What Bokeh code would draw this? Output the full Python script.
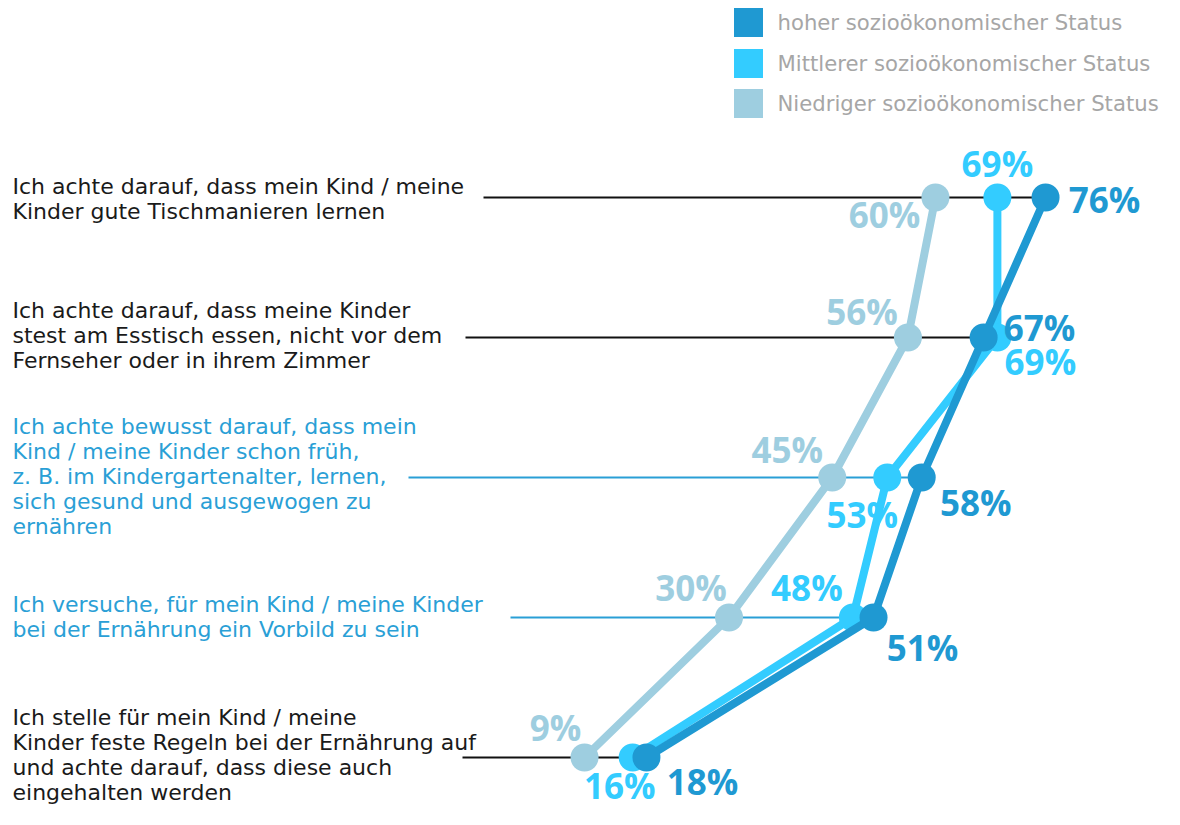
from bokeh.plotting import figure
from bokeh.models import Range1d, ColumnDataSource
from bokeh.core.properties import value
from bokeh.embed import file_html
from bokeh.resources import INLINE

# ---------------- data ----------------
statements = [
    "Ich achte darauf, dass mein Kind / meine\nKinder gute Tischmanieren lernen",
    "Ich achte darauf, dass meine Kinder\nstest am Esstisch essen, nicht vor dem\nFernseher oder in ihrem Zimmer",
    "Ich achte bewusst darauf, dass mein\nKind / meine Kinder schon früh,\nz. B. im Kindergartenalter, lernen,\nsich gesund und ausgewogen zu\nernähren",
    "Ich versuche, für mein Kind / meine Kinder\nbei der Ernährung ein Vorbild zu sein",
    "Ich stelle für mein Kind / meine\nKinder feste Regeln bei der Ernährung auf\nund achte darauf, dass diese auch\neingehalten werden",
]
series_names = [
    "hoher sozioökonomischer Status",
    "Mittlerer sozioökonomischer Status",
    "Niedriger sozioökonomischer Status",
]
hoher = [76, 67, 58, 51, 18]
mittlerer = [69, 69, 53, 48, 16]
niedriger = [60, 56, 45, 30, 9]

# ---------------- styling / layout ----------------
C_HOCH = "#1f99d2"
C_MITT = "#33ccff"
C_NIED = "#9ecee0"
C_BLUE_TXT = "#2a9fd6"
C_BLACK = "#1a1a1a"
stmt_colors = [C_BLACK, C_BLACK, C_BLUE_TXT, C_BLUE_TXT, C_BLACK]

W, H = 1164, 809
PX_PER = 6.881           # pixels per percentage point
X0_PX = 522.1            # canvas px of 0 %
ROW0_PX = 197.0          # canvas px of first row
ROW_STEP = 140.0

x_start = -X0_PX / PX_PER
x_end = x_start + W / PX_PER
y_top = -ROW0_PX / ROW_STEP
y_bot = y_top + H / ROW_STEP

def px_x(px):
    return x_start + px / PX_PER

def px_y(py):
    return y_top + py / ROW_STEP

p = figure(width=W, height=H, output_backend="svg", toolbar_location=None,
           x_range=Range1d(x_start, x_end), y_range=Range1d(y_bot, y_top),
           min_border=0, background_fill_color="white", border_fill_color="white")
p.axis.visible = False
p.grid.visible = False
p.outline_line_color = None

rows = list(range(len(statements)))

# horizontal guide lines from text end to the highest value
line_start_px = [483, 465, 408, 510, 462]
for i in rows:
    p.line([px_x(line_start_px[i]), hoher[i]], [i, i],
           line_color=C_BLUE_TXT if i in (2, 3) else "#111111", line_width=2)

# statements text
p.text(x=[px_x(12)] * 5, y=rows, text=statements,
       text_font=value("DejaVu Sans"), text_font_size="22px",
       text_color=stmt_colors, text_align="left", text_baseline="middle",
       text_line_height=1.0, y_offset=[1, -2, -1, -1, -3])

# series lines + markers (draw low first, high on top)
for vals, col in [(niedriger, C_NIED), (mittlerer, C_MITT), (hoher, C_HOCH)]:
    p.line(vals, rows, line_color=col, line_width=8, line_join="round")
    p.scatter(vals, rows, size=28, marker="circle", fill_color=col, line_color=None)

# value labels
off = {
    "n": [(-51, 17), (-46, -26), (-45, -28), (-38, -30), (-29, -30)],
    "m": [(0, -34), (43, 24), (-25, 37), (-46, -30), (-13, 28)],
    "h": [(59, 2), (56, -10), (54, 25), (49, 30), (56, 24)],
}
for key, vals, col in [("n", niedriger, C_NIED), ("m", mittlerer, C_MITT), ("h", hoher, C_HOCH)]:
    src = ColumnDataSource(dict(
        x=vals, y=rows, t=[f"{v}%" for v in vals],
        xo=[o[0] for o in off[key]], yo=[o[1] for o in off[key]]))
    p.text(x="x", y="y", text="t", source=src, x_offset="xo", y_offset="yo",
           text_font=value("Open Sans"), text_font_size="35px", text_font_style="bold",
           text_color=col, text_align="center", text_baseline="middle")

# legend
leg_cols = [C_HOCH, C_MITT, C_NIED]
leg_y_px = [22, 63, 103]
p.scatter([px_x(748)] * 3, [px_y(v) for v in leg_y_px], marker="square", size=29,
          fill_color=leg_cols, line_color=None)
p.text(x=[px_x(777)] * 3, y=[px_y(v) for v in leg_y_px], text=series_names,
       text_font=value("DejaVu Sans"), text_font_size="21.2px", text_color="#a6a6a6",
       text_align="left", text_baseline="middle")

open("out.html", "w").write(file_html(p, INLINE))
